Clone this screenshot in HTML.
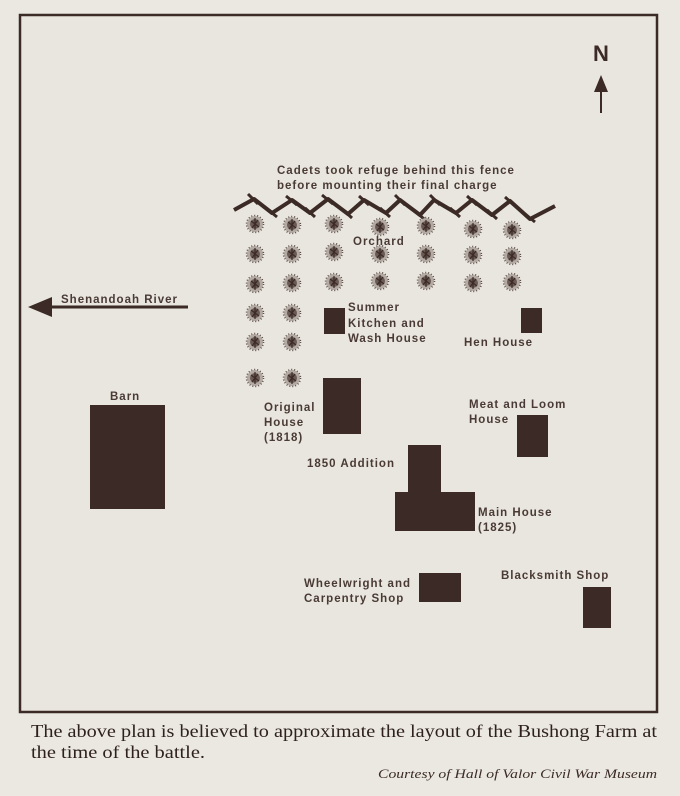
<!DOCTYPE html>
<html><head><meta charset="utf-8"><style>
html,body{margin:0;padding:0;background:#ebe8e2;}
svg{display:block}
.s{font-family:"Liberation Sans",sans-serif;font-size:11.5px;font-weight:bold;fill:#4a3a35;letter-spacing:1px}
</style></head><body>
<svg width="680" height="796" viewBox="0 0 680 796" xmlns="http://www.w3.org/2000/svg">
<defs>
<g id="t">
<circle r="8" fill="#b3aaa4"/>
<circle r="5" fill="#6a5a55"/>
<circle r="8.5" fill="none" stroke="#5a4a45" stroke-width="1.5" stroke-dasharray="1 2"/>
<path d="M-4,-3 L4,3 M-3,4 L3,-4 M0,-6 L0,6" stroke="#3b2a25" stroke-width="1.2"/>
</g>
</defs>
<rect x="0" y="0" width="680" height="796" fill="#ebe8e2"/>
<rect x="20" y="15" width="637" height="697" fill="#e9e6df" stroke="#3b2a25" stroke-width="2.5"/>
<text x="601" y="61" text-anchor="middle" font-family="Liberation Sans,sans-serif" font-weight="bold" font-size="22" fill="#3b2a25">N</text>
<polygon points="601,75 594,92 608,92" fill="#3b2a25"/>
<line x1="601" y1="90" x2="601" y2="113" stroke="#3b2a25" stroke-width="2"/>
<text class="s" x="277" y="174">Cadets took refuge behind this fence</text>
<text class="s" x="277" y="189">before mounting their final charge</text>
<polyline points="234,210 254,199 272,213 292,200 310,213 328,199 348,214 364,200 386,213 400,200 420,215 434,200 456,213 472,200 492,215 510,201 530,219 555,206" fill="none" stroke="#3b2a25" stroke-width="4" stroke-linejoin="round"/>
<g stroke="#3b2a25" stroke-width="3">
<line x1="248" y1="194" x2="258" y2="204"/><line x1="286" y1="196" x2="297" y2="205"/><line x1="322" y1="195" x2="333" y2="204"/><line x1="359" y1="196" x2="369" y2="205"/><line x1="395" y1="195" x2="405" y2="205"/><line x1="430" y1="195" x2="440" y2="205"/><line x1="467" y1="196" x2="477" y2="205"/><line x1="505" y1="197" x2="515" y2="206"/>
<line x1="266" y1="208" x2="277" y2="217"/><line x1="305" y1="208" x2="315" y2="217"/><line x1="342" y1="209" x2="352" y2="218"/><line x1="380" y1="208" x2="390" y2="217"/><line x1="414" y1="210" x2="424" y2="219"/><line x1="450" y1="208" x2="460" y2="217"/><line x1="487" y1="210" x2="497" y2="219"/><line x1="525" y1="214" x2="535" y2="222"/>
</g>
<use href="#t" x="255" y="224"/><use href="#t" x="292" y="225"/><use href="#t" x="334" y="224"/><use href="#t" x="380" y="227"/><use href="#t" x="426" y="226"/><use href="#t" x="473" y="229"/><use href="#t" x="512" y="230"/>
<use href="#t" x="255" y="254"/><use href="#t" x="292" y="254"/><use href="#t" x="334" y="252"/><use href="#t" x="380" y="254"/><use href="#t" x="426" y="254"/><use href="#t" x="473" y="255"/><use href="#t" x="512" y="256"/>
<use href="#t" x="255" y="284"/><use href="#t" x="292" y="283"/><use href="#t" x="334" y="282"/><use href="#t" x="380" y="281"/><use href="#t" x="426" y="281"/><use href="#t" x="473" y="283"/><use href="#t" x="512" y="282"/>
<use href="#t" x="255" y="313"/><use href="#t" x="292" y="313"/>
<use href="#t" x="255" y="342"/><use href="#t" x="292" y="342"/>
<use href="#t" x="255" y="378"/><use href="#t" x="292" y="378"/>
<text class="s" x="353" y="245">Orchard</text>
<line x1="48" y1="307" x2="188" y2="307" stroke="#3b2a25" stroke-width="3"/>
<polygon points="28,307 52,297 52,317" fill="#3b2a25"/>
<text class="s" x="61" y="303">Shenandoah River</text>
<g fill="#3b2a25">
<rect x="90" y="405" width="75" height="104"/>
<rect x="324" y="308" width="21" height="26"/>
<rect x="521" y="308" width="21" height="25"/>
<rect x="323" y="378" width="38" height="56"/>
<rect x="517" y="415" width="31" height="42"/>
<rect x="408" y="445" width="33" height="48"/>
<rect x="395" y="492" width="80" height="39"/>
<rect x="419" y="573" width="42" height="29"/>
<rect x="583" y="587" width="28" height="41"/>
</g>
<text class="s" x="110" y="400">Barn</text>
<text class="s" x="348" y="311">Summer</text>
<text class="s" x="348" y="327">Kitchen and</text>
<text class="s" x="348" y="342">Wash House</text>
<text class="s" x="464" y="346">Hen House</text>
<text class="s" x="264" y="411">Original</text>
<text class="s" x="264" y="426">House</text>
<text class="s" x="264" y="441" letter-spacing="3">(1818)</text>
<text class="s" x="469" y="408">Meat and Loom</text>
<text class="s" x="469" y="423">House</text>
<text class="s" x="307" y="467">1850 Addition</text>
<text class="s" x="478" y="516">Main House</text>
<text class="s" x="478" y="531">(1825)</text>
<text class="s" x="304" y="587">Wheelwright and</text>
<text class="s" x="304" y="602">Carpentry Shop</text>
<text class="s" x="501" y="579">Blacksmith Shop</text>
<text x="31" y="737" textLength="626" lengthAdjust="spacingAndGlyphs" font-family="Liberation Serif,serif" font-size="18" fill="#2e211d">The above plan is believed to approximate the layout of the Bushong Farm at</text>
<text x="31" y="758" textLength="174" lengthAdjust="spacingAndGlyphs" font-family="Liberation Serif,serif" font-size="18" fill="#2e211d">the time of the battle.</text>
<text x="657" y="778" text-anchor="end" textLength="279" lengthAdjust="spacingAndGlyphs" font-family="Liberation Serif,serif" font-style="italic" font-size="13" fill="#3b2a25">Courtesy of Hall of Valor Civil War Museum</text>
</svg>
</body></html>
